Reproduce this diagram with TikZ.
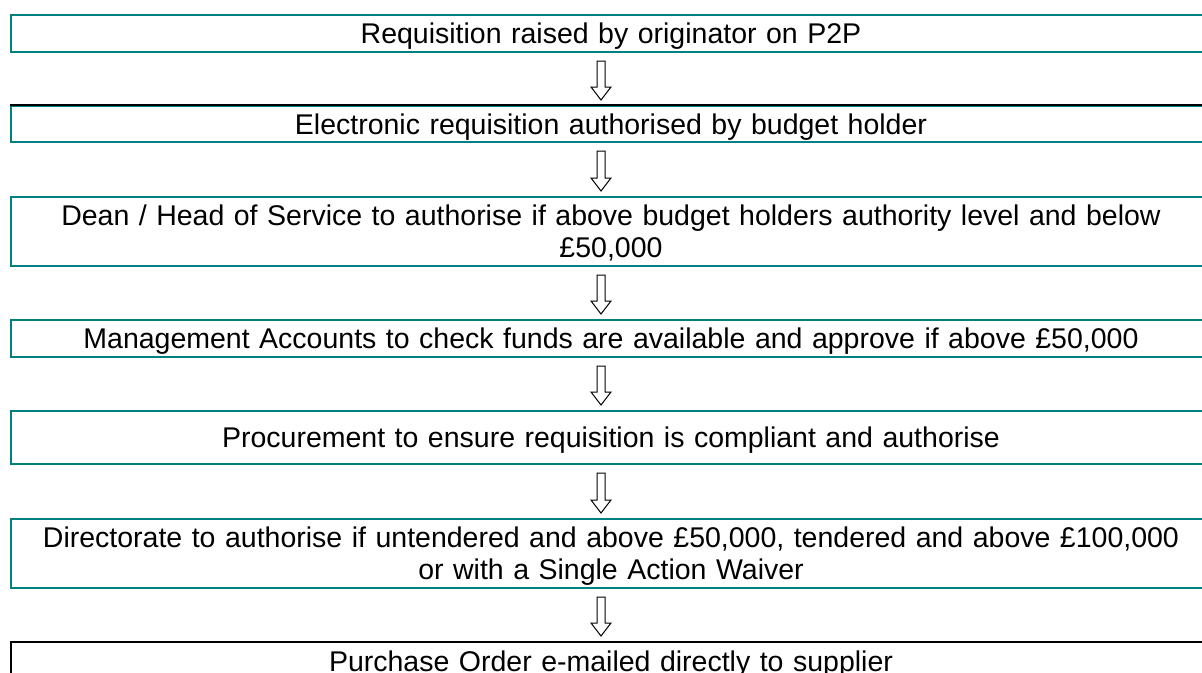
\documentclass[tikz,border=0pt]{standalone}
\usepackage{fontspec}
\setmainfont{Liberation Sans}
\usetikzlibrary{calc}
\definecolor{tealb}{RGB}{0,128,128}
\tikzset{
  stepbox/.style={draw=tealb, line width=2pt, text width=1190pt, inner xsep=5pt, inner ysep=0pt,
    align=center, font=\fontsize{28.5}{32}\selectfont, text height=20.5pt, text depth=0pt},
  twoline/.style={text depth=32pt},
  flowarrow/.style={draw=black, line width=1pt, fill=white, line join=miter},
}
\begin{document}
\begin{tikzpicture}[x=1pt,y=-1pt]
\useasboundingbox (0,0) rectangle (1202,672);
\clip (0,0) rectangle (1202,672);
\node[stepbox, minimum height=37pt] (b1) at (611,33.5) {Requisition raised by originator on P2P};
\node[stepbox, minimum height=36pt] (b2) at (611,124) {Electronic requisition authorised by budget holder};
\draw[black, line width=2pt] (b2.north west) -- (b2.north east);
\node[stepbox, twoline, minimum height=69pt] (b3) at (611,231.5) {Dean / Head of Service to authorise if above budget holders authority level and below\\ £50,000};
\node[stepbox, minimum height=37pt] (b4) at (611,338.5) {Management Accounts to check funds are available and approve if above £50,000};
\node[stepbox, minimum height=53pt] (b5) at (611,437.5) {Procurement to ensure requisition is compliant and authorise};
\node[stepbox, twoline, minimum height=69pt] (b6) at (611,553.5) {Directorate to authorise if untendered and above £50,000, tendered and above £100,000\\ or with a Single Action Waiver};
\node[stepbox, draw=black, minimum height=38.5pt] (b7) at (611,661.25) {Purchase Order e-mailed directly to supplier};
\foreach \u/\v in {b1/b2,b2/b3,b3/b4,b4/b5,b5/b6,b6/b7} {
  \coordinate (\u top) at ($(\u.south)+(-10,8)$);
  \coordinate (\u tip) at ($(\v.north)+(-10,-5)$);
  \draw[flowarrow] ($(\u top)+(-4,0)$) -- ($(\u tip)+(-4,-13)$) -- ($(\u tip)+(-10,-13)$) -- (\u tip)
    -- ($(\u tip)+(10,-13)$) -- ($(\u tip)+(4,-13)$) -- ($(\u top)+(4,0)$) -- cycle;
}
\end{tikzpicture}
\end{document}
